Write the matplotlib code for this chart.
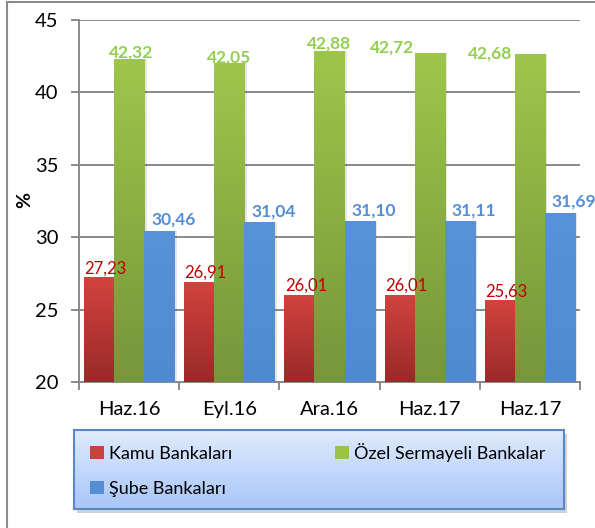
import numpy as np
import matplotlib
matplotlib.use("Agg")
import matplotlib.pyplot as plt
from matplotlib.colors import LinearSegmentedColormap
from matplotlib.patches import Rectangle
from matplotlib.lines import Line2D

# ---- data ----
categories = ['Haz.16', 'Eyl.16', 'Ara.16', 'Haz.17', 'Haz.17']
kamu = [27.23, 26.91, 26.01, 26.01, 25.63]
ozel = [42.32, 42.05, 42.88, 42.72, 42.68]
sube = [30.46, 31.04, 31.10, 31.11, 31.69]
series_names = ['Kamu Bankaları', 'Özel Sermayeli Bankalar', 'Şube Bankaları']
yticks = [20, 25, 30, 35, 40, 45]

plt.rcParams['font.family'] = ['Lato', 'DejaVu Sans']

W, H = 595, 528
fig = plt.figure(figsize=(W / 100, H / 100), dpi=100)

# figure border (left and top)
fig.add_artist(Line2D([7 / W, 7 / W], [0, 1 - 1.5 / H], color='#8c8c8c', lw=1.5, transform=fig.transFigure))
fig.add_artist(Line2D([7 / W, 1], [1 - 1.5 / H, 1 - 1.5 / H], color='#8c8c8c', lw=1.5, transform=fig.transFigure))

ax = fig.add_axes([79 / W, 1 - 382 / H, (580 - 79) / W, (382 - 20) / H])
x = np.arange(len(categories))
bw = 0.3
ymin, ymax = 20, 45

series = [
    (kamu, -bw, '#d3433e', '#992a28', '#c8423e'),
    (ozel, 0.0, '#9ec64b', '#76963a', '#9bc34a'),
    (sube, bw, '#5892d8', '#4f89d0', '#558ed5'),
]

grad = np.linspace(0, 1, 256).reshape(-1, 1)
for vals, off, ctop, cbot, cmid in series:
    # soft shadow
    ax.bar(x + off + 0.025, np.array(vals) - ymin, bw, bottom=ymin, color=(0, 0, 0, 0.10), zorder=2, lw=0)
    bars = ax.bar(x + off, np.array(vals) - ymin, bw, bottom=ymin, color=cmid, zorder=3, lw=0)
    cmap = LinearSegmentedColormap.from_list('g', [cbot, ctop])
    for b in bars:
        x0, wd, top = b.get_x(), b.get_width(), b.get_y() + b.get_height()
        im = ax.imshow(grad, extent=[x0, x0 + wd, ymin, top], origin='lower', cmap=cmap,
                       aspect='auto', zorder=3.1, interpolation='bilinear')
        im.set_clip_path(b)

ax.set_xlim(-0.5, len(categories) - 0.5)
ax.set_ylim(ymin, ymax)
ax.set_yticks(yticks)
ax.set_yticklabels([str(t) for t in yticks], fontsize=14.5)
ax.yaxis.grid(True, color='#8a8a8a', lw=1.4, zorder=1)
ax.set_axisbelow(True)
for s in ['top', 'right']:
    ax.spines[s].set_visible(False)
for s in ['left', 'bottom']:
    ax.spines[s].set_color('#8a8a8a')
    ax.spines[s].set_linewidth(1.4)
ax.tick_params(axis='y', length=6, width=1.4, color='#8a8a8a', pad=9, labelcolor='black')
ax.set_xticks(x)
ax.set_xticklabels(categories, fontsize=14.5)
ax.set_xticks(np.arange(-0.5, len(categories), 1.0), minor=True)
ax.tick_params(axis='x', which='major', length=0, pad=14)
ax.tick_params(axis='x', which='minor', length=6, width=1.4, color='#8a8a8a')

fig.text(25 / W, 1 - 200 / H, '%', rotation=90, fontsize=14, fontweight='bold', ha='center', va='center')

# data labels
red_dx, red_dy = 6.5, 9
green_dx = [2.5, 0, 0, -37.5, -40]
green_dy = [6, 5, 7, 5, 0]
blue_dx, blue_dy = 14, 11
for i in range(len(categories)):
    ax.annotate(f'{kamu[i]:.2f}'.replace('.', ','), (x[i] - bw, kamu[i]), xytext=(red_dx, red_dy),
                textcoords='offset pixels', ha='center', va='center', color='#c00000', fontsize=12, zorder=5)
    ax.annotate(f'{ozel[i]:.2f}'.replace('.', ','), (x[i], ozel[i]), xytext=(green_dx[i], green_dy[i]),
                textcoords='offset pixels', ha='center', va='center', color='#92d050', fontsize=12.5,
                fontweight='bold', zorder=5)
    ax.annotate(f'{sube[i]:.2f}'.replace('.', ','), (x[i] + bw, sube[i]), xytext=(blue_dx, blue_dy),
                textcoords='offset pixels', ha='center', va='center', color='#558ed5', fontsize=12.5,
                fontweight='bold', zorder=5, annotation_clip=False)

# legend box with gradient
lx0, lx1, ly0, ly1 = 74, 564, 430, 509
fig.add_artist(Rectangle(((lx0 + 3) / W, 1 - (ly1 + 4) / H), (lx1 - lx0) / W, (ly1 - ly0) / H,
                         transform=fig.transFigure, color=(0, 0, 0, 0.18), lw=0, zorder=0))
lax = fig.add_axes([lx0 / W, 1 - ly1 / H, (lx1 - lx0) / W, (ly1 - ly0) / H])
lcmap = LinearSegmentedColormap.from_list('lg', ['#a8c6f8', '#e0ebfc'])
lax.imshow(grad, extent=[0, 1, 0, 1], origin='lower', cmap=lcmap, aspect='auto')
lax.set_xlim(0, 1)
lax.set_ylim(0, 1)
lax.set_xticks([])
lax.set_yticks([])
for s in lax.spines.values():
    s.set_color('#5a87c6')
    s.set_linewidth(1.5)
colors = [c[4] for c in series]
order = [0, 2, 1]  # column-wise fill: Kamu, Şube | Özel
handles = [Rectangle((0, 0), 1, 1, fc=colors[k], lw=0) for k in order]
labels = [series_names[k] for k in order]
lax.legend(handles, labels, ncol=2, loc='upper left', bbox_to_anchor=(0.0, 1.04),
           frameon=False, fontsize=13, handlelength=0.75, handleheight=0.75,
           handletextpad=0.3, columnspacing=5.7, labelspacing=1.05)

fig.savefig('out.png', dpi=100)
